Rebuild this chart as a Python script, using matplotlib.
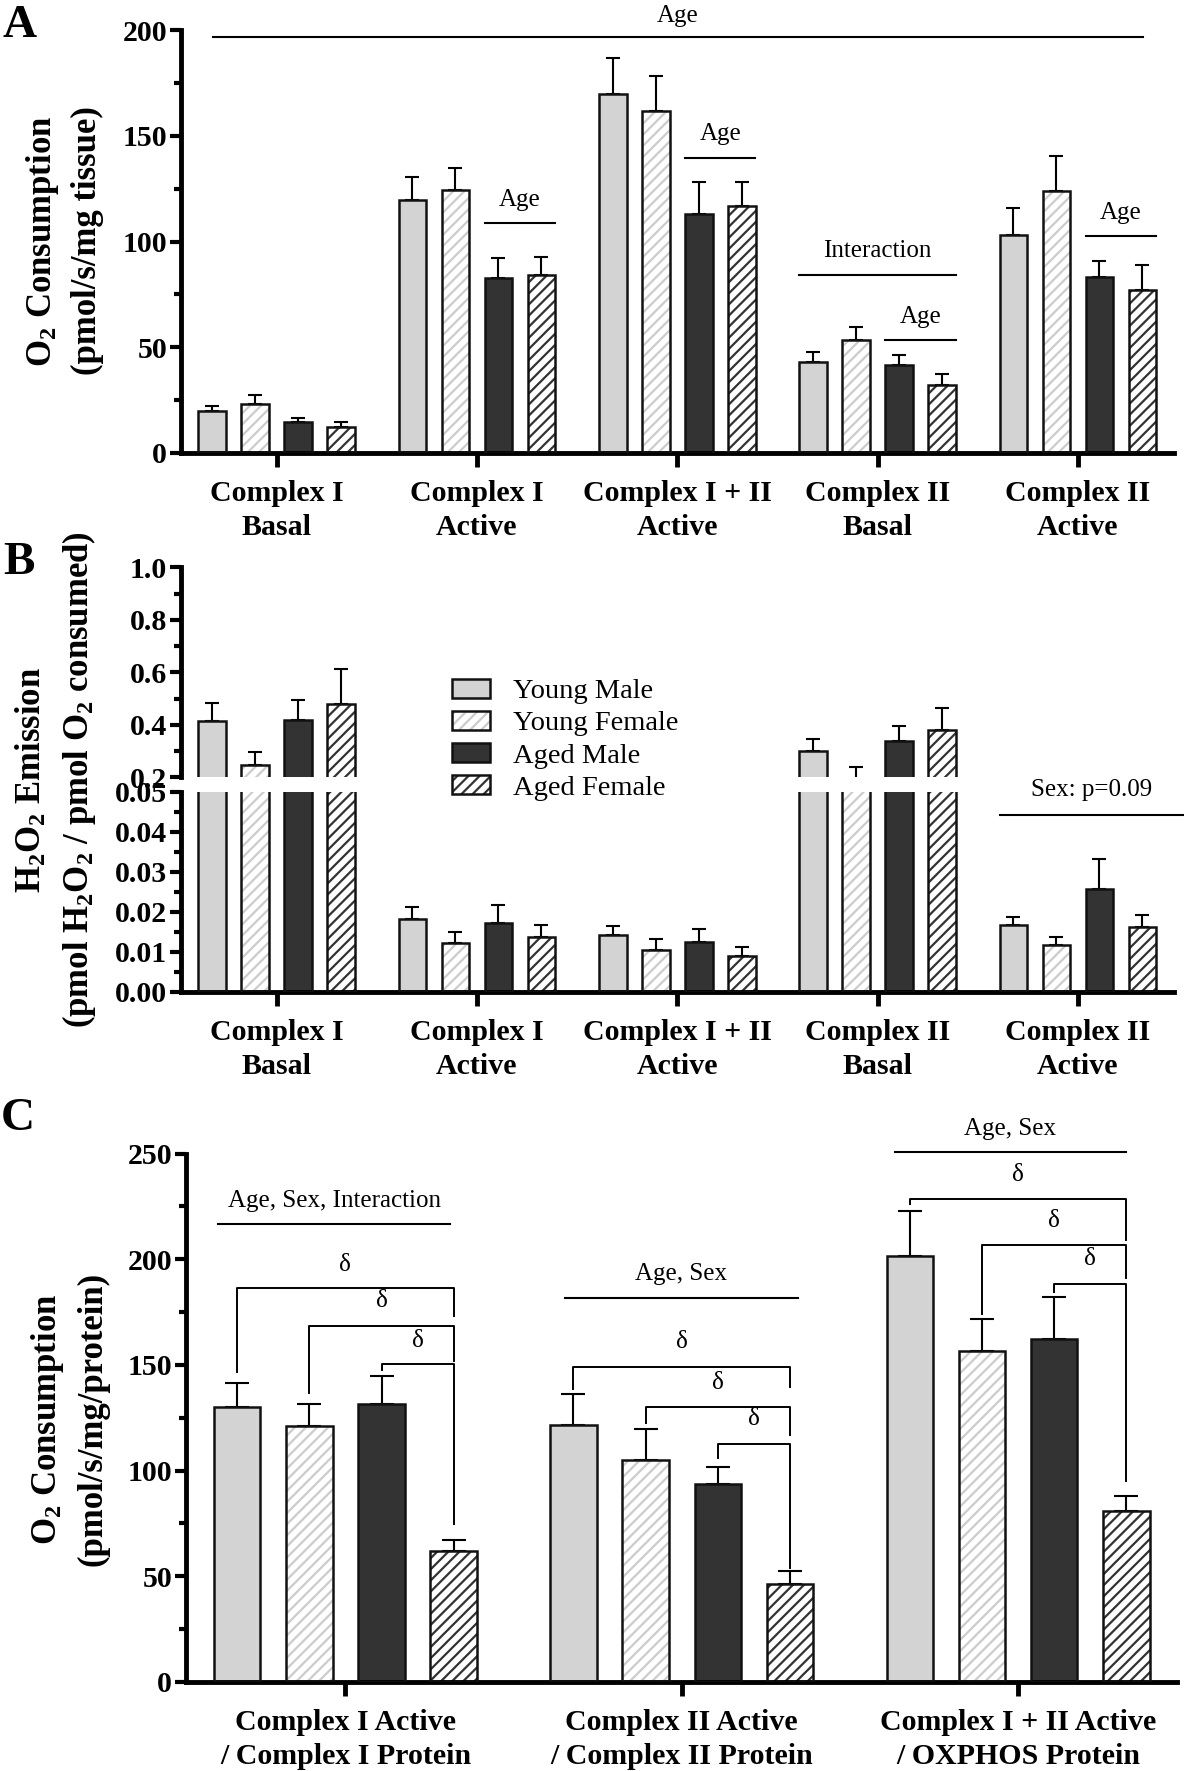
import numpy as np
import matplotlib
matplotlib.use("Agg")
import matplotlib.pyplot as plt
from matplotlib.patches import Patch
from matplotlib.legend_handler import HandlerTuple
from matplotlib.ticker import MultipleLocator, FormatStrFormatter

plt.rcParams["font.family"] = ["Liberation Serif", "DejaVu Serif"]
plt.rcParams["mathtext.fontset"] = "custom"
plt.rcParams["mathtext.rm"] = "Liberation Serif:bold"
plt.rcParams["mathtext.default"] = "rm"
plt.rcParams["hatch.linewidth"] = 1.6

series = ["Young Male", "Young Female", "Aged Male", "Aged Female"]

# panel A: O2 consumption per mg tissue (mean, upper SEM)
groups_a = ["Complex I\nBasal", "Complex I\nActive", "Complex I + II\nActive",
            "Complex II\nBasal", "Complex II\nActive"]
ym_a = [19.9, 119.8, 169.7, 43.0, 102.9]
yf_a = [23.3, 124.2, 161.9, 53.5, 124.0]
am_a = [14.7, 82.6, 113.0, 41.7, 83.1]
af_a = [12.2, 84.4, 116.7, 32.3, 77.1]
ym_a_err = [2.1, 10.6, 17.4, 4.8, 12.8]
yf_a_err = [3.9, 10.8, 16.6, 6.0, 16.5]
am_a_err = [1.6, 9.7, 15.3, 4.4, 7.9]
af_a_err = [2.5, 8.3, 11.3, 4.9, 11.9]

# panel B: H2O2 emission
ym_b = [0.413, 0.0181, 0.0142, 0.300, 0.0167]
yf_b = [0.245, 0.0123, 0.0105, 0.180, 0.0118]
am_b = [0.419, 0.0173, 0.0124, 0.339, 0.0258]
af_b = [0.480, 0.0136, 0.0089, 0.380, 0.0162]
ym_b_err = [0.069, 0.0032, 0.0023, 0.045, 0.0020]
yf_b_err = [0.050, 0.0027, 0.0027, 0.058, 0.0020]
am_b_err = [0.076, 0.0043, 0.0034, 0.055, 0.0073]
af_b_err = [0.131, 0.0032, 0.0023, 0.083, 0.0029]

# panel C: O2 consumption normalised to protein
groups_c = ["Complex I Active\n/ Complex I Protein",
            "Complex II Active\n/ Complex II Protein",
            "Complex I + II Active\n/ OXPHOS Protein"]
ym_c = [130.0, 121.5, 201.6]
yf_c = [120.9, 105.1, 156.8]
am_c = [131.4, 93.8, 162.2]
af_c = [61.9, 46.3, 81.1]
ym_c_err = [11.5, 14.8, 21.0]
yf_c_err = [10.5, 14.4, 15.0]
am_c_err = [13.3, 8.1, 19.8]
af_c_err = [5.3, 6.4, 6.7]

# significance labels: (x start, x end, line y, text y, label)
stats_a = [
    (-0.319, 4.327, 196.7, 206.6, "Age"),
    (1.039, 1.39, 108.9, 119.7, "Age"),
    (2.039, 2.39, 139.6, 150.7, "Age"),
    (2.61, 3.39, 84.3, 95.5, "Interaction"),
    (3.039, 3.39, 53.5, 64.5, "Age"),
    (4.039, 4.39, 102.5, 113.6, "Age"),
]
stats_b = [(3.61, 4.523, 0.0442, 0.0504, "Sex: p=0.09")]
stats_c = [
    (-0.378, 0.311, 216.6, 227.7, "Age, Sex, Interaction"),
    (0.653, 1.345, 181.8, 193.0, "Age, Sex"),
    (1.634, 2.321, 250.6, 261.8, "Age, Sex"),
]
# post-hoc brackets vs Aged Female: (group, bar, bracket y, left foot, right foot, text y)
brackets_c = [
    (0, 0, 186.6, 146.6, 172.9, 197.4),
    (0, 1, 168.6, 136.6, 151.8, 180.2),
    (0, 2, 150.2, 147.4, 74.9, 161.5),
    (1, 0, 149.1, 138.8, 139.5, 160.7),
    (1, 1, 129.9, 122.6, 116.7, 141.5),
    (1, 2, 112.4, 106.1, 53.8, 124.2),
    (2, 0, 228.5, 226.2, 209.3, 239.9),
    (2, 1, 206.8, 174.3, 191.0, 218.1),
    (2, 2, 188.5, 184.7, 95.1, 199.9),
]

faces = ["#d3d3d3", "white", "#333333", "white"]
hatches = [None, "///", None, "///"]
hatch_colors = [None, "#cccccc", None, "#333333"]
OFFS = np.array([-1.5, -0.5, 0.5, 1.5]) * 0.2146
BAR_W = 0.138
SPINE = 3.5
EDGE = 1.8

W, H = 1184, 1771
fig = plt.figure(figsize=(W / 100, H / 100), dpi=100)


def px_axes(left, top, right, bottom):
    return fig.add_axes([left / W, 1 - bottom / H, (right - left) / W, (bottom - top) / H])


def draw_bars(ax, vals, errs, capsize):
    x = np.arange(len(vals[0]))
    for i in range(4):
        xi = x + OFFS[i]
        if hatches[i]:
            ax.bar(xi, vals[i], BAR_W, color="white", hatch=hatches[i],
                   edgecolor=hatch_colors[i], linewidth=0, zorder=2)
        else:
            ax.bar(xi, vals[i], BAR_W, color=faces[i], linewidth=0, zorder=2)
        ax.bar(xi, vals[i], BAR_W, fill=False, edgecolor="#111111", linewidth=EDGE, zorder=3)
        ax.errorbar(xi, vals[i], yerr=[np.zeros(len(xi)), errs[i]], fmt="none",
                    ecolor="black", elinewidth=1.5, capsize=capsize, capthick=1.5, zorder=1)


def style(ax, xaxis=True):
    for s in ["top", "right"]:
        ax.spines[s].set_visible(False)
    ax.spines["left"].set_linewidth(SPINE)
    ax.spines["bottom"].set_linewidth(SPINE)
    ax.tick_params(axis="y", which="major", length=8, width=3, pad=2, labelsize=21.5)
    ax.tick_params(axis="y", which="minor", length=5, width=3)
    for lab in ax.get_yticklabels():
        lab.set_fontweight("bold")
    if xaxis:
        ax.tick_params(axis="x", which="major", length=10, width=SPINE, pad=9.5, labelsize=21.5)
        for lab in ax.get_xticklabels():
            lab.set_fontweight("bold")
            lab.set_linespacing(1.35)


def annotate(ax, items):
    for x0, x1, yl, yt, label in items:
        ax.plot([x0, x1], [yl, yl], color="black", lw=1.5, clip_on=False)
        ax.text((x0 + x1) / 2, yt, label, ha="center", va="center", fontsize=18, clip_on=False)


# ---- panel A ----
axa = px_axes(181, 30.3, 1174, 452.8)
draw_bars(axa, [ym_a, yf_a, am_a, af_a], [ym_a_err, yf_a_err, am_a_err, af_a_err], 4.8)
axa.set_xlim(-0.477, 4.48)
axa.set_ylim(0, 200)
axa.yaxis.set_major_locator(MultipleLocator(50))
axa.yaxis.set_minor_locator(MultipleLocator(25))
axa.set_xticks(range(len(groups_a)))
axa.set_xticklabels(groups_a)
style(axa)
annotate(axa, stats_a)

# ---- panel B (broken axis) ----
axbt = px_axes(181, 567.3, 1174, 777.3)
axbb = px_axes(181, 791.7, 1174, 991.7)
vals_b = [ym_b, yf_b, am_b, af_b]
errs_b = [ym_b_err, yf_b_err, am_b_err, af_b_err]
for ax in (axbt, axbb):
    draw_bars(ax, vals_b, errs_b, 4.8)
    ax.set_xlim(-0.477, 4.48)
axbt.set_ylim(0.2, 1.0)
axbt.yaxis.set_major_locator(MultipleLocator(0.2))
axbt.yaxis.set_minor_locator(MultipleLocator(0.1))
axbt.yaxis.set_major_formatter(FormatStrFormatter("%.1f"))
axbt.spines["bottom"].set_visible(False)
axbt.set_xticks([])
style(axbt, xaxis=False)
axbb.set_ylim(0, 0.05)
axbb.yaxis.set_major_locator(MultipleLocator(0.01))
axbb.yaxis.set_minor_locator(MultipleLocator(0.005))
axbb.yaxis.set_major_formatter(FormatStrFormatter("%.2f"))
axbb.set_xticks(range(len(groups_a)))
axbb.set_xticklabels(groups_a)
style(axbb)
annotate(axbb, stats_b)

handles = []
for i in range(4):
    if hatches[i]:
        h = (Patch(facecolor="white", hatch=hatches[i], edgecolor=hatch_colors[i], linewidth=0),
             Patch(fill=False, edgecolor="#111111", linewidth=EDGE))
    else:
        h = Patch(facecolor=faces[i], edgecolor="#111111", linewidth=EDGE)
    handles.append(h)
leg = fig.legend(handles, series, loc="upper left", bbox_to_anchor=(452 / W, 1 - 679 / H),
                 frameon=False, fontsize=20.5, handlelength=1.33, handleheight=0.63,
                 handletextpad=0.8, labelspacing=0.24, borderpad=0, borderaxespad=0,
                 handler_map={tuple: HandlerTuple(ndivide=1, pad=0)})
leg.set_zorder(6)

# ---- panel C ----
axc = px_axes(186, 1153.5, 1176.8, 1682)
draw_bars(axc, [ym_c, yf_c, am_c, af_c], [ym_c_err, yf_c_err, am_c_err, af_c_err], 8.3)
axc.set_xlim(-0.474, 2.472)
axc.set_ylim(0, 250)
axc.yaxis.set_major_locator(MultipleLocator(50))
axc.yaxis.set_minor_locator(MultipleLocator(25))
axc.set_xticks(range(len(groups_c)))
axc.set_xticklabels(groups_c)
style(axc)
annotate(axc, stats_c)
for g, b, yb, yl, yr, yt in brackets_c:
    xl, xr = g + OFFS[b], g + OFFS[3]
    axc.plot([xl, xl, xr, xr], [yl, yb, yb, yr], color="black", lw=1.4, clip_on=False)
    axc.text((xl + xr) / 2, yt, "δ", ha="center", va="center", fontsize=18, clip_on=False)

# ---- axis titles and panel letters ----
fig.text(64 / W, 1 - 241 / H, "O$_2$ Consumption\n(pmol/s/mg tissue)", rotation=90,
         ha="center", va="center", fontsize=25, fontweight="bold", linespacing=1.4)
fig.text(56 / W, 1 - 780 / H, "H$_2$O$_2$ Emission\n(pmol H$_2$O$_2$ / pmol O$_2$ consumed)",
         rotation=90, ha="center", va="center", fontsize=25, fontweight="bold", linespacing=1.4)
fig.text(69 / W, 1 - 1419 / H, "O$_2$ Consumption\n(pmol/s/mg/protein)", rotation=90,
         ha="center", va="center", fontsize=25, fontweight="bold", linespacing=1.4)
for letter, x, y in [("A", 20, 26), ("B", 19, 563), ("C", 18, 1119)]:
    fig.text(x / W, 1 - y / H, letter, ha="center", va="center", fontsize=34, fontweight="bold")

fig.savefig("out.png", dpi=100)
